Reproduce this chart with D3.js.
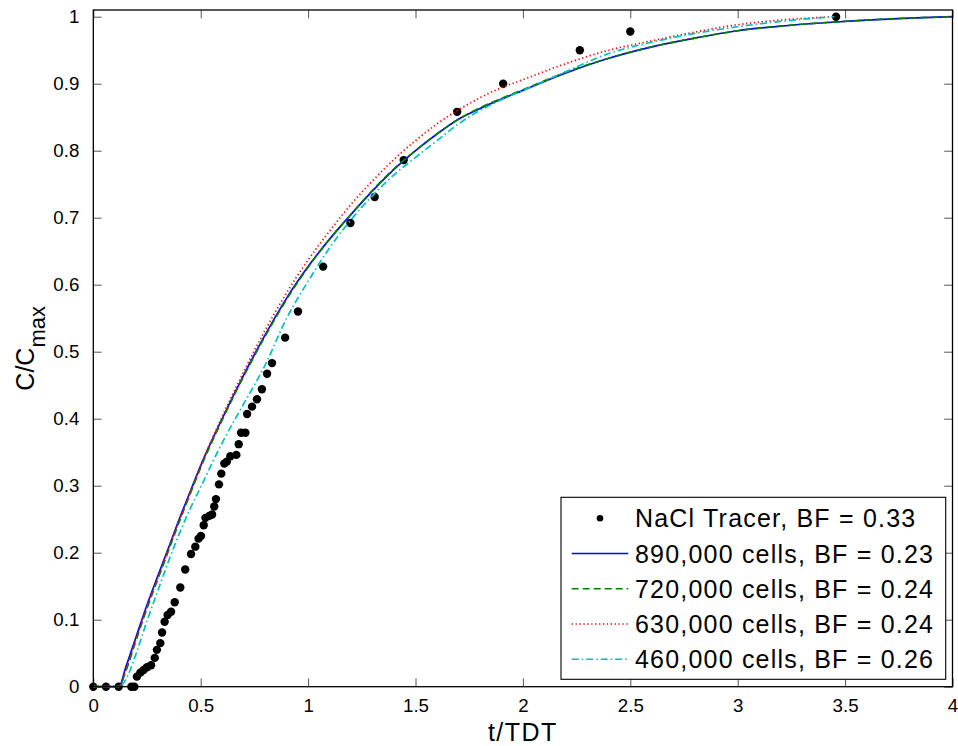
<!DOCTYPE html>
<html>
<head>
<meta charset="utf-8">
<script src="https://cdn.jsdelivr.net/npm/d3@7"></script>
<style>
  body { margin: 0; background: #fff; }
  text { font-family: "Liberation Sans", Arial, Helvetica, sans-serif; fill: #000; }
</style>
</head>
<body>
<svg id="chart" width="958" height="746"></svg>
<script>
// NaCl tracer measurements
let tracerT = [0, 0.059, 0.118, 0.177, 0.191, 0.203, 0.219, 0.234, 0.25, 0.269,
  0.286, 0.296, 0.312, 0.32, 0.332, 0.346, 0.362, 0.379, 0.405, 0.428,
  0.455, 0.475, 0.49, 0.501, 0.514, 0.522, 0.54, 0.553, 0.563, 0.571,
  0.585, 0.596, 0.61, 0.622, 0.638, 0.666, 0.677, 0.688, 0.708, 0.716,
  0.739, 0.762, 0.785, 0.809, 0.832, 0.893, 0.953, 1.07, 1.197, 1.31,
  1.445, 1.694, 1.908, 2.265, 2.5, 3.458]
let tracerC = [0, 0, 0, 0, 0, 0.015, 0.021, 0.025, 0.029, 0.032,
  0.043, 0.055, 0.065, 0.081, 0.097, 0.107, 0.112, 0.126, 0.148, 0.175,
  0.198, 0.209, 0.221, 0.225, 0.241, 0.252, 0.255, 0.257, 0.269, 0.28,
  0.302, 0.318, 0.333, 0.336, 0.344, 0.346, 0.362, 0.379, 0.379, 0.407,
  0.418, 0.429, 0.444, 0.467, 0.483, 0.521, 0.56, 0.627, 0.692, 0.731,
  0.786, 0.858, 0.9, 0.95, 0.978, 1.0]

// simulation time grids
let timeFine = [0, 0.05, 0.12, 0.15, 0.2, 0.25, 0.3, 0.35, 0.4, 0.45, 0.5, 0.6, 0.7, 0.8, 0.9,
  1.0, 1.1, 1.2, 1.3, 1.4, 1.5, 1.6, 1.7, 1.8, 1.9, 2.0, 2.2, 2.4, 2.6, 2.8, 3.0, 3.2, 3.4, 3.6, 3.8, 4.0]
let timeCoarse = [0, 0.05, 0.12, 0.15, 0.2, 0.25, 0.3, 0.35, 0.4, 0.45, 0.5, 0.6, 0.7, 0.8, 0.9,
  1.0, 1.1, 1.2, 1.3, 1.4, 1.5, 1.6, 1.7, 1.8, 1.9, 2.0, 2.2, 2.4, 2.6, 2.8, 3.0, 3.2, 3.45]

let cells890 = [0, 0, 0, 0.028, 0.075, 0.122, 0.165, 0.207, 0.25, 0.29, 0.33, 0.4, 0.465, 0.525, 0.58,
  0.627, 0.668, 0.705, 0.74, 0.772, 0.8, 0.825, 0.847, 0.863, 0.877, 0.89, 0.916, 0.938, 0.955, 0.968,
  0.979, 0.986, 0.991, 0.995, 0.998, 1.0]
let cells720 = [0, 0, 0, 0.022, 0.07, 0.117, 0.16, 0.203, 0.246, 0.287, 0.327, 0.398, 0.463, 0.523, 0.578,
  0.626, 0.668, 0.705, 0.741, 0.773, 0.8, 0.825, 0.847, 0.864, 0.878, 0.891, 0.917, 0.938, 0.955, 0.968,
  0.979, 0.986, 0.991, 0.995, 0.998, 1.0]
let cells630 = [0, 0, 0, 0.024, 0.072, 0.119, 0.162, 0.205, 0.248, 0.289, 0.33, 0.403, 0.47, 0.532, 0.588,
  0.637, 0.68, 0.72, 0.755, 0.787, 0.815, 0.84, 0.861, 0.879, 0.894, 0.906, 0.93, 0.95, 0.964, 0.977,
  0.988, 0.995, 1.0]
let cells460 = [0, 0, 0, 0.01, 0.05, 0.098, 0.143, 0.187, 0.228, 0.265, 0.298, 0.364, 0.422, 0.48, 0.55,
  0.605, 0.655, 0.697, 0.733, 0.764, 0.79, 0.815, 0.84, 0.86, 0.876, 0.89, 0.918, 0.945, 0.962, 0.975,
  0.985, 0.993, 1.0]

let xTicks = [0, 0.5, 1, 1.5, 2, 2.5, 3, 3.5, 4]
let yTicks = [0, 0.1, 0.2, 0.3, 0.4, 0.5, 0.6, 0.7, 0.8, 0.9, 1]

let legendLabels = ['NaCl Tracer, BF = 0.33', '890,000 cells, BF = 0.23', '720,000 cells, BF = 0.24',
  '630,000 cells, BF = 0.24', '460,000 cells, BF = 0.26']

let svg = d3.select('#chart')

let plotLeft = 93.3, plotRight = 952.5, plotTop = 10, plotBottom = 686.7

let xScale = d3.scaleLinear().domain([0, 4]).range([plotLeft, plotRight])
let yScale = d3.scaleLinear().domain([0, 1.01]).range([plotBottom, plotTop])

let series = [
  { t: timeFine, c: cells890, color: '#0000ff', dash: null },
  { t: timeFine, c: cells720, color: '#008000', dash: '7,4' },
  { t: timeCoarse, c: cells630, color: '#ff0000', dash: '1.3,2.6' },
  { t: timeCoarse, c: cells460, color: '#00bfbf', dash: '7,3,1.5,3' }
]

svg.append('rect').attr('width', 958).attr('height', 746).attr('fill', '#fff')

// tracer dots
svg.append('g').selectAll('circle')
  .data(tracerT.map((t, i) => [t, tracerC[i]]))
  .enter()
  .append('circle')
  .attr('cx', d => xScale(d[0]))
  .attr('cy', d => yScale(d[1]))
  .attr('r', 4.2)
  .attr('fill', '#000')

let line = d3.line()
  .x(d => xScale(d[0]))
  .y(d => yScale(d[1]))
  .curve(d3.curveMonotoneX)

series.forEach(s => {
  svg.append('path')
    .datum(s.t.map((t, i) => [t, s.c[i]]))
    .attr('d', line)
    .attr('fill', 'none')
    .attr('stroke', s.color)
    .attr('stroke-width', 1.7)
    .attr('stroke-dasharray', s.dash)
})

// axes: ticks inside on all four sides
let fmt = d => d3.format('~g')(d)
let tickLen = 8.3

let xAxisB = d3.axisBottom(xScale).tickValues(xTicks).tickSize(-tickLen).tickFormat(fmt).tickPadding(12)
let xAxisT = d3.axisTop(xScale).tickValues(xTicks).tickSize(-tickLen).tickFormat('')
let yAxisL = d3.axisLeft(yScale).tickValues(yTicks).tickSize(-tickLen).tickFormat(fmt).tickPadding(14)
let yAxisR = d3.axisRight(yScale).tickValues(yTicks).tickSize(-tickLen).tickFormat('')

let axes = [
  svg.append('g').attr('transform', 'translate(0,' + plotBottom + ')').call(xAxisB),
  svg.append('g').attr('transform', 'translate(0,' + plotTop + ')').call(xAxisT),
  svg.append('g').attr('transform', 'translate(' + plotLeft + ',0)').call(yAxisL),
  svg.append('g').attr('transform', 'translate(' + plotRight + ',0)').call(yAxisR)
]
axes.forEach(a => {
  a.select('.domain').remove()
  a.selectAll('.tick line').attr('stroke', '#555').attr('stroke-width', 1)
  a.selectAll('.tick text')
    .style('font-size', '18.7px')
    .attr('fill', '#000')
})

svg.append('rect')
  .attr('x', plotLeft).attr('y', plotTop)
  .attr('width', plotRight - plotLeft).attr('height', plotBottom - plotTop)
  .attr('fill', 'none').attr('stroke', '#000').attr('stroke-width', 1.3)

// legend box (drawn over ticks)
let legX = 561, legY = 497.3, legW = 384.7, legH = 182
let rowY = d3.scaleLinear().domain([0, 4]).range([518.3, 659.3])

let legend = svg.append('g')
legend.append('rect')
  .attr('x', legX).attr('y', legY)
  .attr('width', legW).attr('height', legH)
  .attr('fill', '#fff').attr('stroke', '#000').attr('stroke-width', 1.1)

legend.append('circle')
  .attr('cx', 600).attr('cy', rowY(0)).attr('r', 3.3).attr('fill', '#000')

series.forEach((s, i) => {
  legend.append('line')
    .attr('x1', 571.7).attr('x2', 628.3)
    .attr('y1', rowY(i + 1)).attr('y2', rowY(i + 1))
    .attr('stroke', s.color).attr('stroke-width', 1.5)
    .attr('stroke-dasharray', s.dash)
})

legend.selectAll('text.lab')
  .data(legendLabels)
  .enter()
  .append('text')
  .attr('class', 'lab')
  .attr('x', 635)
  .attr('y', (d, i) => rowY(i) + 9)
  .style('font-size', '25px')
  .style('letter-spacing', '1.2px')
  .text(d => d)

// axis titles
svg.append('text')
  .attr('x', (plotLeft + plotRight) / 2)
  .attr('y', 741)
  .attr('text-anchor', 'middle')
  .style('font-size', '25px')
  .style('letter-spacing', '1.5px')
  .text('t/TDT')

let yLab = svg.append('text')
  .attr('transform', 'translate(33.5,' + ((plotTop + plotBottom) / 2) + ') rotate(-90)')
  .attr('text-anchor', 'middle')
  .style('font-size', '25px')
yLab.append('tspan').text('C/C')
yLab.append('tspan').attr('dy', 11.5).style('font-size', '22px').text('max')
</script>
</body>
</html>
